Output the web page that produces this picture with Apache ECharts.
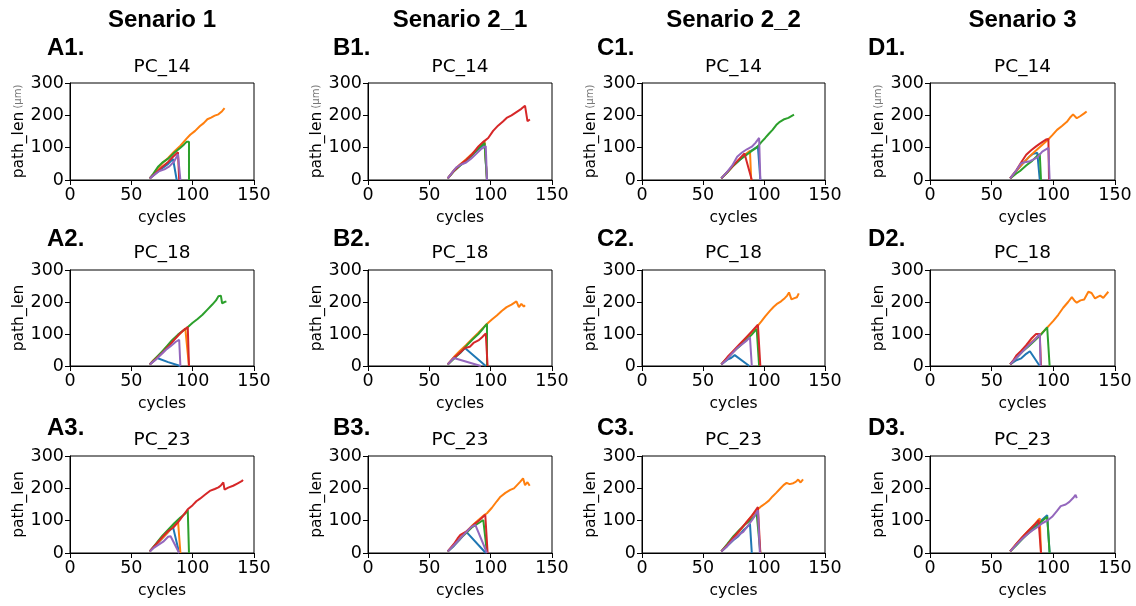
<!DOCTYPE html>
<html>
<head>
<meta charset="utf-8">
<script src="https://cdn.jsdelivr.net/npm/echarts@6/dist/echarts.min.js"></script>
<style>
    html, body { margin: 0; background: #fff; }
    #chart { width: 1136px; height: 606px; }
</style>
</head>
<body>
<div id="chart"></div>
<script>
// tab10 order used by matplotlib: blue, orange, green, red, purple
var colors = ['#1f77b4', '#ff7f0e', '#2ca02c', '#d62728', '#9467bd'];
var scenarios = ['Senario 1', 'Senario 2_1', 'Senario 2_2', 'Senario 3'];
var colLetters = ['A', 'B', 'C', 'D'];
var pcNames = ['PC_14', 'PC_18', 'PC_23'];
var xTicks = [0, 50, 100, 150];
var yTicks = [0, 100, 200, 300];

// each panel: [blue, orange, green, red, purple], points are [cycle, path_len]
var panelA1 = [
    [[65,5],[70,20],[75,36],[80,50],[84,65],[87,0]],
    [[65,5],[68,18],[72,38],[76,55],[80,68],[85,88],[90,106],[95,128],[98,140],[102,152],[106,167],[109,176],[112,188],[115,193],[118,199],[121,203],[124,213],[126,222]],
    [[65,5],[68,20],[72,42],[75,53],[80,66],[85,84],[90,100],[93,110],[95,118],[97,118],[97,0]],
    [[65,5],[70,22],[75,40],[80,56],[84,72],[88,86],[89,0]],
    [[65,5],[70,20],[73,28],[77,33],[81,42],[85,58],[88,80],[90,0]]
];
var panelA2 = [
    [[65,5],[68,15],[71,25],[80,12],[90,0]],
    [[65,5],[68,18],[72,32],[76,48],[80,65],[85,85],[90,102],[94,117],[97,0]],
    [[65,5],[70,25],[75,45],[79,62],[83,80],[88,98],[92,110],[95,118],[100,135],[104,147],[108,160],[112,176],[116,192],[119,205],[121,218],[123,220],[124,196],[126,200],[127.5,202]],
    [[65,5],[70,22],[75,40],[80,60],[85,82],[90,103],[93,113],[96,122],[97,0]],
    [[65,5],[70,20],[74,35],[78,50],[82,62],[86,75],[89,82],[90,0]]
];
var panelA3 = [
    [[65,5],[70,25],[75,45],[80,65],[84,80],[89,0]],
    [[65,5],[70,25],[75,45],[80,65],[85,88],[88,102],[90,0]],
    [[65,5],[70,28],[75,52],[80,72],[85,92],[90,110],[94,122],[96,133],[97,0]],
    [[65,5],[68,18],[72,35],[76,52],[80,68],[84,78],[88,95],[92,115],[96,135],[100,148],[103,160],[106,168],[110,180],[114,192],[118,198],[121,203],[123,209],[125,218],[126,196],[129,202],[133,208],[136,214],[140,222],[141,226]],
    [[65,5],[68,15],[72,25],[76,35],[80,50],[82,52],[89,0]]
];
var panelB1 = [
    [[65,5],[70,28],[75,45],[80,60],[85,78],[90,95],[95,112],[97,0]],
    [[65,5],[70,30],[75,48],[80,64],[85,82],[90,100],[95,120],[97,0]],
    [[65,5],[70,27],[75,44],[80,60],[85,78],[90,98],[95,115],[97,0]],
    [[65,5],[70,28],[75,47],[80,62],[85,80],[90,104],[94,118],[98,130],[102,152],[106,168],[110,181],[113,192],[117,200],[121,210],[125,220],[128,230],[130,182],[132,187]],
    [[65,5],[69,25],[72,39],[76,48],[80,54],[84,66],[88,80],[92,95],[96,105],[97,0]]
];
var panelB2 = [
    [[65,5],[70,25],[75,40],[79,56],[96,0]],
    [[65,5],[70,28],[75,48],[80,66],[85,85],[90,104],[95,124],[98,135],[101,145],[105,158],[109,172],[113,184],[117,192],[121,202],[122,196],[123,184],[125,194],[127,186],[128,190]],
    [[65,5],[72,30],[76,45],[80,62],[85,82],[90,100],[94,118],[97,132],[97,0]],
    [[65,5],[70,26],[73,35],[76,45],[79,56],[83,60],[86,72],[90,80],[93,90],[96,102],[97.5,0]],
    [[65,5],[70,25],[92,0]]
];
var panelB3 = [
    [[65,5],[70,22],[75,42],[80,66],[96,0]],
    [[65,5],[70,25],[75,45],[80,65],[85,85],[90,102],[95,118],[97,123],[101,140],[105,160],[108,174],[112,186],[116,195],[119,200],[121.5,210],[124,220],[126.4,231],[128,210],[130,219],[131.8,208]],
    [[65,5],[70,24],[75,44],[80,62],[85,80],[90,92],[94,102],[97,0]],
    [[65,5],[70,28],[73,45],[75.3,56],[80,66],[86,87],[91,102],[95.6,118],[97.5,0]],
    [[65,5],[70,24],[75,44],[80,64],[84,80],[87.5,87],[97,0]]
];
var panelC1 = [
    [[65,5],[70,25],[75,45],[80,62],[85,78],[90,92],[95,104],[97,0]],
    [[65,5],[70,24],[75,45],[80,64],[85,80],[88.5,90],[89.5,0]],
    [[65,5],[70,24],[75,45],[80,62],[85,76],[90,90],[94,100],[98,118],[101,130],[104,143],[107,155],[110,170],[113,180],[116,187],[120,192],[124.6,202]],
    [[65,5],[70,25],[75,46],[80,66],[84,82],[90,0]],
    [[65,5],[70,26],[74,45],[78,72],[82,85],[86,95],[90,103],[93,115],[96,130],[97,0]]
];
var panelC2 = [
    [[65,5],[70,20],[73,25],[76,34],[88,0]],
    [[65,5],[70,25],[75,45],[80,65],[85,85],[90,106],[95,126],[98,140],[101,155],[105,173],[108,185],[111,195],[114,202],[117,212],[119,220],[120.5,230],[122.5,208],[125,212],[127,215],[128.5,227]],
    [[65,5],[70,25],[75,45],[80,62],[85,80],[90,98],[94,116],[96,0]],
    [[65,5],[70,28],[75,48],[80,68],[85,88],[90,108],[95,129],[97,0]],
    [[65,5],[70,22],[74,40],[78,56],[82,68],[86,80],[88.5,90],[90,0]]
];
var panelC3 = [
    [[65,5],[70,22],[75,40],[79,52],[83,70],[86,80],[88.5,90],[90,0]],
    [[65,5],[70,25],[75,45],[80,68],[85,92],[90,115],[95,135],[98,145],[101,153],[104,162],[107,175],[110,186],[113,198],[116,210],[118.5,217],[121,213],[124,216],[126,220],[128,227],[130,218],[132,228]],
    [[65,5],[70,28],[75,52],[80,72],[85,90],[90,105],[94,122],[97,0]],
    [[65,5],[70,25],[75,48],[80,70],[85,92],[90,115],[95,142],[97,0]],
    [[65,5],[70,22],[75,42],[80,58],[83,65],[87,85],[91,106],[95,132],[96.6,0]]
];
var panelD1 = [
    [[65,5],[70,28],[75,50],[80,70],[83,80],[87,84],[89,0]],
    [[65,5],[70,28],[75,50],[80,70],[85,88],[90,105],[95,122],[99,138],[103,155],[107,167],[111,180],[114,195],[116,203],[119,191],[122,198],[125,206],[127,212]],
    [[65,5],[70,20],[73,28],[78,45],[83,60],[87,75],[89,80],[90,0]],
    [[65,5],[70,30],[74,55],[78,78],[82,92],[86,104],[90,115],[94,125],[96,127],[96.5,0]],
    [[65,5],[70,30],[74,52],[78,56],[81,58],[84,64],[87,70],[91,88],[96,99],[97,0]]
];
var panelD2 = [
    [[65,5],[70,18],[74,24],[78,38],[81,46],[89,0]],
    [[65,5],[70,28],[75,50],[80,68],[85,84],[90,100],[95,120],[100,141],[104,160],[108,182],[112,200],[115,215],[117,205],[119,198],[122,205],[125,208],[128.4,232],[131,228],[133.8,211],[136,216],[138,220],[140.5,213],[142,220],[144.6,232]],
    [[65,5],[70,25],[75,45],[80,62],[85,80],[90,98],[95,121],[97,0]],
    [[65,5],[68,20],[70,33],[74,48],[78,65],[82,85],[86,100],[89,100],[90,0]],
    [[65,5],[70,25],[75,45],[80,65],[85,82],[89,100],[89.7,0]]
];
var panelD3 = [
    [[65,5],[70,25],[75,45],[80,65],[85,82],[90,100],[95,117],[97,0]],
    [[65,5],[70,28],[75,50],[80,70],[85,90],[89,107],[90,0]],
    [[65,5],[70,24],[75,44],[80,62],[85,78],[90,96],[95,112],[97,0]],
    [[65,5],[70,28],[75,50],[80,70],[85,88],[88,102],[90,0]],
    [[65,5],[70,26],[75,45],[79,58],[83,70],[87,80],[91,92],[95,100],[99,112],[103,130],[106,145],[110,150],[113,158],[116,170],[118,180],[119,170]]
];

var panels = [
    [panelA1, panelB1, panelC1, panelD1],
    [panelA2, panelB2, panelC2, panelD2],
    [panelA3, panelB3, panelC3, panelD3]
];

var myChart = echarts.init(document.getElementById('chart'));

// layout (pixels)
var colLeft = [70, 368, 642, 930];
var colWidth = [184, 184, 183, 185];
var rowTop = [83, 270, 456];
var rowHeight = [97, 96, 97];
var yNameGap = [36, 41, 38, 39];
var labelLeft = [47, 333, 597, 868];
var labelY = [48, 239, 428];
var subTitleY = [67, 253, 440];

var grids = [], xAxes = [], yAxes = [], series = [], graphics = [];
var tickFont = 17.5;
var labelFont = 15.5;

scenarios.forEach(function (s, c) {
    graphics.push({
        type: 'text', x: colLeft[c] + colWidth[c] / 2, y: 20,
        style: {
            text: s, fill: '#000', font: 'bold 24px "Liberation Sans", Arial, sans-serif',
            textAlign: 'center', textVerticalAlign: 'middle', align: 'center', verticalAlign: 'middle'
        }
    });
});

panels.forEach(function (row, r) {
    row.forEach(function (panel, c) {
        var idx = grids.length;
        grids.push({
            left: colLeft[c], top: rowTop[r], width: colWidth[c], height: rowHeight[r],
            show: true, borderColor: '#000', borderWidth: 1, backgroundColor: 'transparent'
        });
        xAxes.push({
            type: 'value', gridIndex: idx, min: 0, max: 150, interval: 50,
            name: 'cycles', nameLocation: 'middle', nameGap: 30,
            nameTextStyle: {fontSize: labelFont, color: '#000', fontFamily: 'DejaVu Sans'},
            axisLine: {lineStyle: {color: '#000', width: 1}},
            axisTick: {show: true, length: 5, lineStyle: {color: '#000'}},
            axisLabel: {fontSize: tickFont, color: '#000', fontFamily: 'DejaVu Sans', margin: 6},
            splitLine: {show: false}
        });
        var yName = r === 0 ? '{n|path_len}{u| (µm)}' : 'path_len';
        yAxes.push({
            type: 'value', gridIndex: idx, min: 0, max: 300, interval: 100,
            name: yName, nameLocation: 'middle', nameGap: yNameGap[c], nameRotate: 90,
            nameTextStyle: {
                fontSize: labelFont, color: '#000', fontFamily: 'DejaVu Sans',
                rich: {
                    n: {fontSize: labelFont, color: '#000', fontFamily: 'DejaVu Sans'},
                    u: {fontSize: 10, color: '#777', fontFamily: 'DejaVu Sans'}
                }
            },
            axisLine: {show: true, lineStyle: {color: '#000', width: 1}},
            axisTick: {show: true, length: 5, lineStyle: {color: '#000'}},
            axisLabel: {fontSize: tickFont, color: '#000', fontFamily: 'DejaVu Sans', margin: 6},
            splitLine: {show: false}
        });
        panel.forEach(function (pts, k) {
            series.push({
                type: 'line', xAxisIndex: idx, yAxisIndex: idx,
                data: pts, showSymbol: false, animation: false,
                lineStyle: {width: 2, color: colors[k]},
                itemStyle: {color: colors[k]}
            });
        });
        graphics.push({
            type: 'text', x: labelLeft[c], y: labelY[r],
            style: {
                text: colLetters[c] + (r + 1) + '.', fill: '#000',
                font: 'bold 24px "Liberation Sans", Arial, sans-serif',
                textAlign: 'left', textVerticalAlign: 'middle', align: 'left', verticalAlign: 'middle'
            }
        });
        graphics.push({
            type: 'text', x: colLeft[c] + colWidth[c] / 2, y: subTitleY[r],
            style: {
                text: pcNames[r], fill: '#000', font: '18.5px "DejaVu Sans", sans-serif',
                textAlign: 'center', textVerticalAlign: 'middle', align: 'center', verticalAlign: 'middle'
            }
        });
    });
});

var option = {
    animation: false,
    backgroundColor: '#fff',
    grid: grids,
    xAxis: xAxes,
    yAxis: yAxes,
    series: series,
    graphic: graphics
};

myChart.setOption(option);
</script>
</body>
</html>
